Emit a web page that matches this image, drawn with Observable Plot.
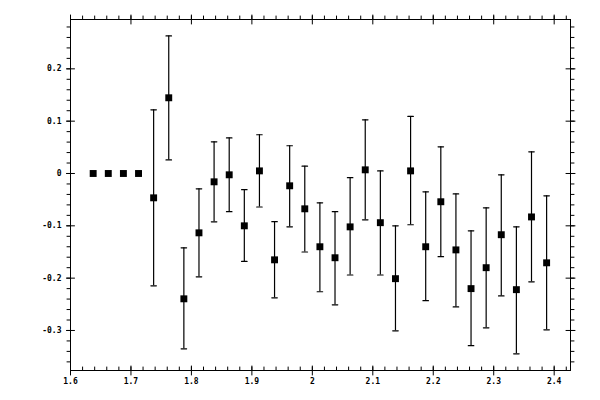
<!DOCTYPE html>
<html>
<head>
<meta charset="utf-8">
<script src="https://cdn.jsdelivr.net/npm/d3@7"></script>
<script src="https://cdn.jsdelivr.net/npm/@observablehq/plot@0.6"></script>
<style>
  html, body { margin: 0; padding: 0; background: #fff; }
  #chart svg { display: block; }
</style>
</head>
<body>
<div id="chart"></div>
<script>
// ---- data ----
const xs = [1.6375,1.6625,1.6875,1.7125,1.7375,1.7625,1.7875,1.8125,1.8375,1.8625,1.8875,1.9125,1.9375,1.9625,1.9875,2.0125,2.0375,2.0625,2.0875,2.1125,2.1375,2.1625,2.1875,2.2125,2.2375,2.2625,2.2875,2.3125,2.3375,2.3625,2.3875];
const ys = [0,0,0,0,-0.0465,0.1447,-0.2395,-0.1134,-0.0159,-0.0025,-0.1,0.005,-0.165,-0.0235,-0.0675,-0.14,-0.161,-0.102,0.007,-0.094,-0.201,0.005,-0.14,-0.054,-0.146,-0.22,-0.18,-0.117,-0.222,-0.083,-0.1707];
const errHi = [0,0,0,0,0.1217,0.263,-0.142,-0.0293,0.0605,0.068,-0.031,0.074,-0.092,0.053,0.014,-0.056,-0.073,-0.008,0.1026,0.005,-0.1,0.109,-0.035,0.051,-0.039,-0.1095,-0.0656,-0.0025,-0.102,0.0415,-0.0426];
const errLo = [0,0,0,0,-0.2146,0.026,-0.335,-0.1975,-0.0924,-0.073,-0.168,-0.064,-0.2376,-0.102,-0.15,-0.226,-0.251,-0.194,-0.0885,-0.194,-0.3006,-0.098,-0.243,-0.159,-0.255,-0.329,-0.295,-0.234,-0.3446,-0.207,-0.2987];

const xDomain = [1.6, 2.427];
const yDomain = [-0.3765, 0.2943];
const xTicks = [1.6,1.7,1.8,1.9,2,2.1,2.2,2.3,2.4];
const xTickLabels = ["1.6","1.7","1.8","1.9","2","2.1","2.2","2.3","2.4"];
const yTicks = [-0.3,-0.2,-0.1,0,0.1,0.2];
const yTickLabels = ["-0.3","-0.2","-0.1","0","0.1","0.2"];
const xMinor = d3.range(0, 42).map(i => +(1.6 + i * 0.02).toFixed(2));
const yMinor = d3.range(-18, 15).map(i => +(i * 0.02).toFixed(2));

const points = xs.map((x, i) => ({x, y: ys[i], lo: errLo[i], hi: errHi[i]}));
const bars = points.filter(d => d.lo !== d.hi);

const line = {draw(ctx, l) { ctx.moveTo(0, 0); ctx.lineTo(0, -l); }};
const font = {fontFamily: "DejaVu Sans Mono", fontSize: 8, fontWeight: "bold"};

const tickStyle = {stroke: "black", strokeWidth: 1, shape: line};

const chart = Plot.plot({
  width: 600,
  height: 400,
  marginLeft: 70,
  marginRight: 30,
  marginTop: 19,
  marginBottom: 30,
  x: {domain: xDomain},
  y: {domain: yDomain},
  style: {background: "white", color: "black"},
  marks: [
    Plot.frame({stroke: "black", strokeWidth: 1}),
    // minor ticks
    Plot.vector(xMinor, {x: d => d, y: () => yDomain[0], rotate: 0, anchor: "start", length: 3.5, ...tickStyle}),
    Plot.vector(xMinor, {x: d => d, y: () => yDomain[1], rotate: 0, anchor: "start", length: 3.5, ...tickStyle}),
    Plot.vector(yMinor, {y: d => d, x: () => xDomain[0], rotate: 270, anchor: "start", length: 3.5, ...tickStyle}),
    Plot.vector(yMinor, {y: d => d, x: () => xDomain[1], rotate: 90, anchor: "start", length: 3.5, ...tickStyle}),
    // major ticks (crossing the frame)
    Plot.vector(xTicks, {x: d => d, y: () => yDomain[0], rotate: 0, anchor: "middle", length: 9, ...tickStyle}),
    Plot.vector(xTicks, {x: d => d, y: () => yDomain[1], rotate: 0, anchor: "middle", length: 9, ...tickStyle}),
    Plot.vector(yTicks, {y: d => d, x: () => xDomain[0], rotate: 90, anchor: "middle", length: 8, ...tickStyle}),
    Plot.vector(yTicks, {y: d => d, x: () => xDomain[1], rotate: 90, anchor: "middle", length: 9, ...tickStyle}),
    // tick labels
    Plot.axisX({ticks: xTicks, tickSize: 0, tickPadding: 8, tickFormat: (d, i) => xTickLabels[i], label: null, ...font}),
    Plot.axisY({ticks: yTicks, tickSize: 0, tickPadding: 9, tickFormat: (d, i) => yTickLabels[i], label: null, ...font}),
    // error bars
    Plot.ruleX(bars, {x: "x", y1: "lo", y2: "hi", stroke: "black", strokeWidth: 1.2}),
    Plot.vector(bars, {x: "x", y: "lo", rotate: 90, anchor: "middle", length: 5.5, stroke: "black", strokeWidth: 1.2, shape: line}),
    Plot.vector(bars, {x: "x", y: "hi", rotate: 90, anchor: "middle", length: 5.5, stroke: "black", strokeWidth: 1.2, shape: line}),
    // markers
    Plot.dot(points, {x: "x", y: "y", symbol: "square", r: 3.9, fill: "black", stroke: null})
  ]
});
document.getElementById("chart").appendChild(chart);
</script>
</body>
</html>
